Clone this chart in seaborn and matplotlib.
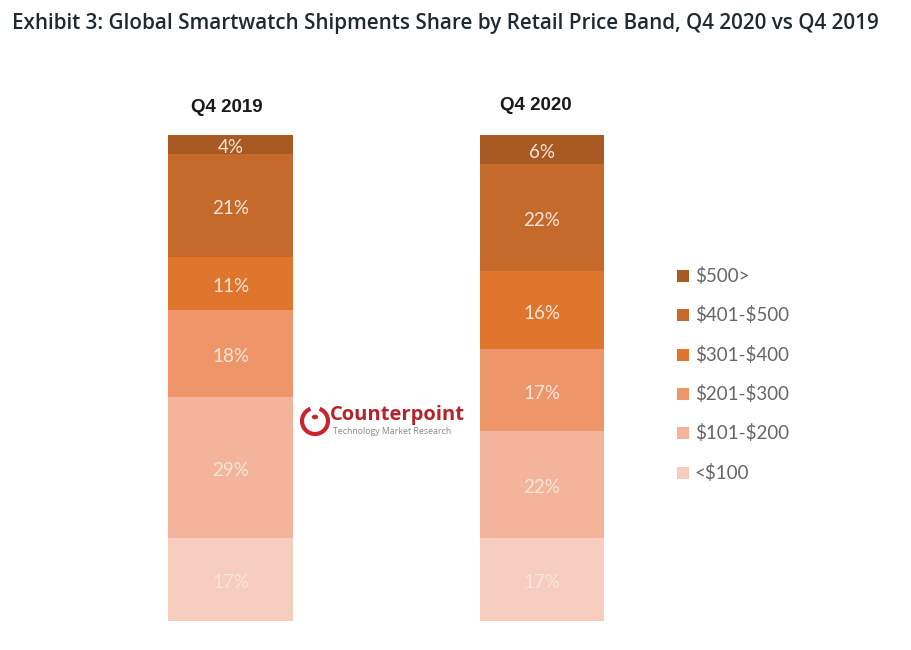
import matplotlib
matplotlib.use('Agg')
import matplotlib.pyplot as plt
from matplotlib.patches import Arc, Circle, Rectangle
import pandas as pd
import seaborn as sns

sns.set_theme(style="white")
plt.rcParams['font.family'] = ['Lato', 'DejaVu Sans']
plt.rcParams['text.parse_math'] = False

quarters = ["Q4 2019", "Q4 2020"]
# bottom of the stack first
bands = ["<$100", "$101-$200", "$201-$300", "$301-$400", "$401-$500", "$500>"]
share_2019 = [17, 29, 18, 11, 21, 4]
share_2020 = [17, 22, 17, 16, 22, 6]
band_colors = ["#F6CDBF", "#F4B49C", "#EE9669", "#E0752E", "#C56A2B", "#A95A22"]

W, H = 911, 650

df = pd.DataFrame({"band": bands, "Q4 2019": share_2019, "Q4 2020": share_2020})
df = df.melt(id_vars="band", var_name="quarter", value_name="share")

fig = plt.figure(figsize=(W / 100, H / 100), dpi=100, facecolor="white")
ax = fig.add_axes([100 / W, 1 - 621 / H, 560 / W, 486 / H])

running = [0, 0]
for band, color in zip(bands, band_colors):
    sub = df[df["band"] == band]
    sns.barplot(data=sub, x="quarter", y="share", order=quarters, color=color,
                saturation=1, width=0.4, bottom=running, ax=ax, errorbar=None,
                linewidth=0)
    texts = ax.bar_label(ax.containers[-1], labels=[f"{v}%" for v in sub["share"]],
                         label_type="center", color="#F8E6DA", fontsize=13.5)
    for t in texts:
        t.xyann = (0, -2.2)
    running = [r + v for r, v in zip(running, sub["share"])]

ax.set_xlim(-0.419, 1.379)
ax.set_ylim(0, 100)
ax.axis("off")

# column headings sit at slightly different heights in the original
for i, (q, off, nudge) in enumerate(zip(quarters, [20, 21.5], [-0.012, -0.02])):
    ax.annotate(q, (i + nudge, 100), xytext=(0, off), textcoords="offset points",
                ha="center", va="center", fontsize=13.5, fontweight="bold",
                family="Liberation Sans", color="#1a1a1a")

fig.text(12 / W, 1 - 24 / H,
         "Exhibit 3: Global Smartwatch Shipments Share by Retail Price Band, Q4 2020 vs Q4 2019",
         fontsize=14.85, fontweight="semibold", family="Open Sans", color="#1f2a30",
         ha="left", va="center")

# legend, top entry first
legend_y = [276, 315, 355, 394, 433, 473]
for y, band, color in zip(legend_y, bands[::-1], band_colors[::-1]):
    fig.add_artist(Rectangle((677 / W, 1 - (y + 6) / H), 12 / W, 12 / H,
                             transform=fig.transFigure, color=color, lw=0))
    fig.text(695 / W, 1 - y / H, band, fontsize=13.5, color="#666666", va="center", ha="left")

# Counterpoint logo
fig.add_artist(Rectangle((296 / W, 1 - 442 / H), 174 / W, 42 / H,
                         transform=fig.transFigure, color="white", lw=0))
fig.add_artist(Arc((315 / W, 1 - 421 / H), 26 / W, 26 / H, theta1=105, theta2=75,
                   transform=fig.transFigure, ec="#C9252C", lw=3))
fig.add_artist(Circle((315 / W, 1 - 417 / H), 0.0035, transform=fig.transFigure,
                      color="#C9252C", lw=0))
fig.text(330 / W, 1 - 415 / H, "Counterpoint", fontsize=14.5, fontweight="bold",
         family="Open Sans", color="#B5232B", va="center", ha="left")
fig.text(333 / W, 1 - 432 / H, "Technology Market Research", fontsize=6.3,
         family="Open Sans", color="#888888", va="center", ha="left")

fig.savefig("out.png", dpi=100)
